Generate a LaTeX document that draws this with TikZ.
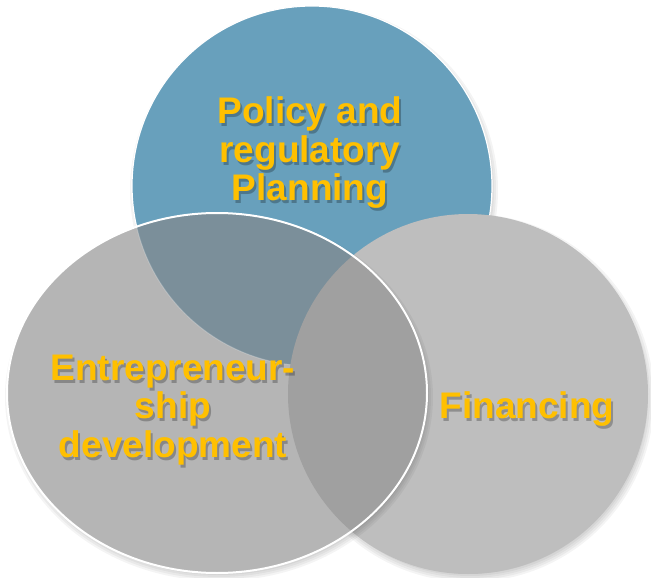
\documentclass[tikz,border=0pt]{standalone}
\usepackage{fontspec}
\setmainfont{Liberation Sans}
\usetikzlibrary{calc}
\definecolor{policyblue}{HTML}{68A0BC}
\definecolor{entregray}{HTML}{B5B5B5}
\definecolor{financegray}{HTML}{BEBEBE}
\definecolor{blueoverlap}{HTML}{7B8F9A}
\definecolor{grayoverlap}{HTML}{A0A0A0}
\definecolor{labelgold}{HTML}{FFC000}
\begin{document}
\begin{tikzpicture}[x=1pt,y=-1pt]
  \tikzstyle{label}=[text=labelgold,font=\bfseries\fontsize{37}{38.5}\selectfont,align=center,inner sep=0pt]
  \tikzstyle{labelshadow}=[label,text=black,text opacity=0.25]
  \tikzstyle{ring}=[draw=white,line width=2pt]
  \useasboundingbox (0,0) rectangle (651,578);
  \coordinate (pc) at (312,186);
  \coordinate (lc) at (217,393);
  \coordinate (fc) at (468,394);
  % soft shadows
  \foreach \s in {1,...,6}
    \fill[black,opacity=0.045] ($(pc)+(2,4)$) circle [radius=172+2*\s];
  \fill[policyblue] (pc) circle [radius=180];
  \draw[white,line width=1.2pt] (pc) circle [radius=180];
  \foreach \s in {1,...,6}
    \fill[black,opacity=0.045] ($(fc)+(2,4)$) circle [radius=172+2*\s];
  \fill[financegray] (fc) circle [radius=180];
  \foreach \s in {1,...,6}
    \fill[black,opacity=0.045] ($(lc)+(2,4)$) ellipse [x radius=202+2*\s,y radius=172+2*\s];
  \fill[entregray] (lc) ellipse [x radius=210,y radius=180];
  % overlaps seen through the left ellipse
  \begin{scope}
    \clip (lc) ellipse [x radius=210,y radius=180];
    \fill[blueoverlap] (pc) circle [radius=180];
    \draw[white,opacity=0.25,line width=1pt] (pc) circle [radius=180];
    \fill[grayoverlap] (fc) circle [radius=180];
  \end{scope}
  \draw[ring] (lc) ellipse [x radius=210,y radius=180];
  % labels
  \node[labelshadow] (policy-s) at (312,156) {Policy and\\regulatory\\Planning};
  \node[labelshadow] (entre-s) at (175,413) {Entrepreneur-\\ship\\development};
  \node[labelshadow,anchor=base] (financing-s) at (529,421) {Financing};
  \node[label] (policy) at (310,153) {Policy and\\regulatory\\Planning};
  \node[label] (entre) at (173,410) {Entrepreneur-\\ship\\development};
  \node[label,anchor=base] (financing) at (527,418) {Financing};
\end{tikzpicture}
\end{document}
